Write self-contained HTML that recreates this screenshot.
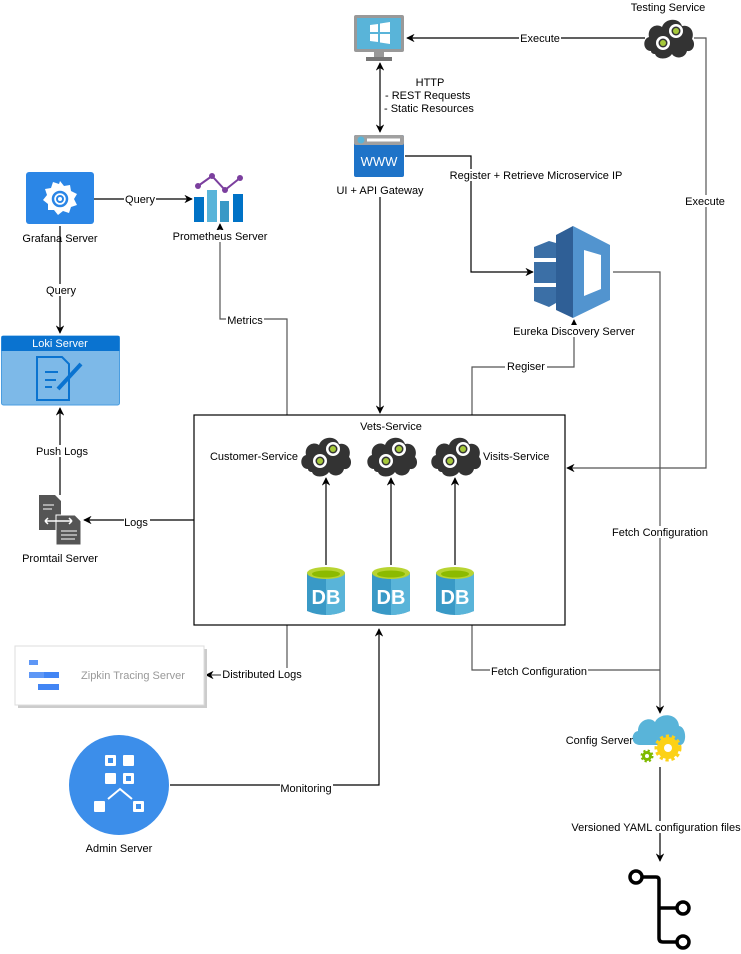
<!DOCTYPE html>
<html><head><meta charset="utf-8"><style>
html,body{margin:0;padding:0;background:#fff}
svg{display:block;font-family:"Liberation Sans",sans-serif;font-size:11px}
.t{fill:#000}
</style></head><body>
<svg width="741" height="954" viewBox="0 0 741 954" xmlns="http://www.w3.org/2000/svg">
<defs>
<marker id="a" viewBox="0 0 10 10" refX="9" refY="5" markerWidth="7" markerHeight="7" orient="auto-start-reverse"><path d="M0,0 L10,5 L0,10 L3,5 z" fill="#000"/></marker>
<g id="cloud">
<path d="M8,34 C0,34 -1,22 6,20 C4,10 14,6 19,10 C22,1 36,0 39,9 C47,7 52,15 49,22 C53,26 51,35 44,34 C42,42 32,42 29,37 C25,43 14,43 12,37 C10,37 8,36 8,34z" fill="#333"/>
<circle cx="33" cy="14" r="7" fill="#fff"/><circle cx="33" cy="14" r="4.5" fill="#333"/><circle cx="33" cy="14" r="3" fill="#a5c83a"/>
<circle cx="20" cy="26" r="7" fill="#fff"/><circle cx="20" cy="26" r="4.5" fill="#333"/><circle cx="20" cy="26" r="3" fill="#a5c83a"/>
</g>
<g id="db">
<path d="M0,6 L0,44 Q19,52 38,44 L38,6 z" fill="#3999c6"/>
<path d="M19,8 L38,6 L38,44 Q29,48 19,48 z" fill="#59b4d9"/>
<ellipse cx="19" cy="6" rx="19" ry="6" fill="#b8d432"/>
<ellipse cx="19" cy="7" rx="14" ry="3.5" fill="#8cba00"/>
<text x="19" y="37" text-anchor="middle" font-weight="bold" font-size="20" fill="#fff">DB</text>
</g>
</defs>

<!-- connectors -->
<g fill="none" stroke-width="1.2">
<path d="M645,38 H407" stroke="#000" marker-end="url(#a)"/>
<path d="M694,38 H706 V468 H567" stroke="#555" marker-end="url(#a)"/>
<path d="M380,132 V63" stroke="#000" marker-end="url(#a)" marker-start="url(#a)"/>
<path d="M380,197 V413" stroke="#000" marker-end="url(#a)"/>
<path d="M405,156 H471 V272 H533" stroke="#000" marker-end="url(#a)"/>
<path d="M613,272 H660 V713" stroke="#555" marker-end="url(#a)"/>
<path d="M472,415 V367 H574 V320" stroke="#555" marker-end="url(#a)"/>
<path d="M94,199 H192" stroke="#000" marker-end="url(#a)"/>
<path d="M287,415 V319 H220 V224" stroke="#555" marker-end="url(#a)"/>
<path d="M60,226 V333" stroke="#000" marker-end="url(#a)"/>
<path d="M60,495 V408" stroke="#000" marker-end="url(#a)"/>
<path d="M194,520 H84" stroke="#000" marker-end="url(#a)"/>
<path d="M287,625 V675 H206" stroke="#555" marker-end="url(#a)"/>
<path d="M472,625 V670 H660" stroke="#555"/>
<path d="M170,785 H379 V629" stroke="#000" marker-end="url(#a)"/>
<path d="M660,767 V861" stroke="#000" marker-end="url(#a)"/>
<path d="M326,565 V478" stroke="#000" marker-end="url(#a)"/>
<path d="M391,565 V478" stroke="#000" marker-end="url(#a)"/>
<path d="M455,565 V478" stroke="#000" marker-end="url(#a)"/>
</g>

<!-- main box -->
<rect x="194" y="415" width="371" height="210" fill="none" stroke="#000" stroke-width="1.2"/>

<!-- monitor -->
<rect x="354" y="15" width="50" height="37" rx="2" fill="#999"/>
<rect x="357" y="18" width="44" height="31" fill="#59b4d9"/>
<path d="M370,25 L378,24 V32 H370z M380,23.5 L390,22 V32 H380z M370,34 H378 V42 L370,41z M380,34 H390 V44 L380,42.5z" fill="#fff"/>
<rect x="374" y="52" width="10" height="6" fill="#999"/><rect x="366" y="57" width="26" height="4" fill="#777"/>

<!-- testing cloud -->
<use href="#cloud" x="643" y="17"/>

<!-- www -->
<rect x="354" y="135" width="50" height="42" rx="2" fill="#1e73c8"/>
<rect x="354" y="135" width="50" height="10" rx="2" fill="#a0a0a0"/>
<circle cx="361" cy="140" r="3.5" fill="#59b4d9"/><rect x="367" y="138.5" width="33" height="3" fill="#fff"/>
<text x="379" y="166" text-anchor="middle" fill="#fff" font-size="13">WWW</text>

<!-- grafana -->
<rect x="26" y="172" width="68" height="52" rx="3" fill="#2b86e6"/>
<path d="M60,181 l4,5 6,-1 1,6 6,3 -3,5 3,6 -6,2 -2,6 -6,-2 -5,4 -4,-5 -6,0 0,-6 -5,-4 4,-5 -2,-6 6,-1 2,-6 6,2z" fill="#fff"/>
<circle cx="60" cy="199" r="7" fill="none" stroke="#2b86e6" stroke-width="2.5"/>
<circle cx="60" cy="199" r="3" fill="none" stroke="#2b86e6" stroke-width="2"/>

<!-- prometheus -->
<rect x="194" y="197" width="10" height="25" fill="#0072c6"/>
<rect x="207" y="190" width="10" height="32" fill="#59b4d9"/>
<rect x="220" y="201" width="9" height="21" fill="#3999c6"/>
<rect x="233" y="194" width="10" height="28" fill="#0072c6"/>
<path d="M198,186 L212,176 L225,190 L240,178" fill="none" stroke="#7b3f9e" stroke-width="2"/>
<circle cx="198" cy="186" r="3" fill="#7b3f9e"/><circle cx="212" cy="176" r="3" fill="#7b3f9e"/><circle cx="225" cy="190" r="3" fill="#7b3f9e"/><circle cx="240" cy="178" r="3" fill="#7b3f9e"/>

<!-- loki -->
<rect x="1.5" y="336" width="118" height="69" rx="2" fill="#7db9e8" stroke="#4a9de0"/>
<rect x="1.5" y="336" width="118" height="15" fill="#0a73d0"/>
<text x="60" y="347" text-anchor="middle" fill="#fff" font-size="11">Loki Server</text>
<path d="M37,357 H62 L69,364 V400 H37z" fill="none" stroke="#0a73d0" stroke-width="2"/>
<path d="M45,372 H58 M45,380 H56 M45,387 H52" stroke="#0a73d0" stroke-width="2"/>
<path d="M58,389 L81,364" stroke="#0a73d0" stroke-width="4"/>

<!-- promtail -->
<path d="M39,495 H55 L61,501 V530 H39z" fill="#555"/>
<path d="M56,515 H75 L81,521 V545 H56z" fill="#555" stroke="#fff" stroke-width="1"/>
<path d="M43,505 H54 M43,509 H52 M61,531 H77 M61,535 H77 M61,539 H75" stroke="#fff" stroke-width="1"/>
<path d="M45,521 H72 M45,521 l3,-3 M45,521 l3,3 M72,521 l-3,-3 M72,521 l-3,3" stroke="#fff" stroke-width="1.5"/>

<!-- eureka -->
<polygon points="534,247 549,241 556,243 556,258 534,258" fill="#3b6fa6"/>
<polygon points="534,262 556,262 556,283 534,283" fill="#3b6fa6"/>
<polygon points="534,287 556,287 556,303 549,307 534,301" fill="#3b6fa6"/>
<polygon points="556,235 573,226 573,318 556,310" fill="#2f5f96"/>
<path d="M573,226 L610,245 L610,300 L573,318 z M584,250 L584,296 L601,289 L601,255 z" fill="#5294cf" fill-rule="evenodd"/>

<!-- clouds in box -->
<use href="#cloud" x="300" y="435"/>
<use href="#cloud" x="366" y="435"/>
<use href="#cloud" x="430" y="435"/>
<use href="#db" x="307" y="567"/>
<use href="#db" x="372" y="567"/>
<use href="#db" x="436" y="567"/>

<!-- zipkin -->
<rect x="18" y="649" width="189" height="59" fill="#ccc"/>
<rect x="15" y="646" width="189" height="59" fill="#fff" stroke="#ddd"/>
<rect x="29" y="660" width="9" height="5" fill="#5e97f6"/>
<rect x="29" y="672" width="30" height="6" fill="#5e97f6"/><rect x="44" y="672" width="15" height="6" fill="#4285f4"/>
<rect x="38" y="684" width="21" height="6" fill="#4285f4"/>
<text x="133" y="679" text-anchor="middle" fill="#999" font-size="11">Zipkin Tracing Server</text>

<!-- admin -->
<circle cx="119" cy="785" r="50" fill="#3c8eea"/>
<g fill="#fff"><rect x="105" y="755" width="11" height="11" rx="1"/><rect x="123" y="755" width="11" height="11" rx="1"/><rect x="105" y="773" width="11" height="11" rx="1"/><rect x="123" y="773" width="11" height="11" rx="1"/><rect x="94" y="801" width="11" height="11" rx="1"/><rect x="133" y="801" width="11" height="11" rx="1"/></g>
<g fill="#3c8eea"><rect x="108" y="758" width="5" height="5"/><rect x="126" y="776" width="5" height="5"/><rect x="136" y="804" width="5" height="5"/></g>
<path d="M108,799 L120,789 L132,799" fill="none" stroke="#fff" stroke-width="2"/>

<!-- config server -->
<path d="M640,745 C630,745 631,732 638,731 C638,720 650,716 655,722 C660,712 678,713 679,726 C687,727 687,745 680,745z" fill="#59b4d9"/>
<circle cx="668" cy="748" r="11" fill="#fcd116" stroke="#fcd116" stroke-width="5" stroke-dasharray="3 2.5"/>
<circle cx="668" cy="748" r="4" fill="#fff"/>
<circle cx="647" cy="756" r="5" fill="#7fba00" stroke="#7fba00" stroke-width="3" stroke-dasharray="2 2"/>
<circle cx="647" cy="756" r="2" fill="#fff"/>

<!-- git -->
<g fill="none" stroke="#000" stroke-width="3.5">
<circle cx="636" cy="877" r="6"/>
<path d="M642,877 H656 Q659,877 659,880 V938 Q659,942 663,942 H677 M659,908 H677"/>
<circle cx="683" cy="908" r="6"/><circle cx="683" cy="942" r="6"/>
</g>

<!-- labels with white background -->
<g font-size="11">
<text x="668" y="11" text-anchor="middle">Testing Service</text>
<rect x="519" y="32" width="42" height="12" fill="#fff"/><text x="540" y="42" text-anchor="middle">Execute</text>
<text x="430" y="86" text-anchor="middle">HTTP</text>
<text x="385" y="99">- REST Requests</text>
<text x="384" y="112">- Static Resources</text>
<rect x="334" y="184" width="92" height="12" fill="#fff"/><text x="380" y="194" text-anchor="middle">UI + API Gateway</text>
<rect x="448" y="169" width="176" height="12" fill="#fff"/><text x="536" y="179" text-anchor="middle">Register + Retrieve Microservice IP</text>
<rect x="684" y="195" width="44" height="12" fill="#fff"/><text x="705" y="205" text-anchor="middle">Execute</text>
<rect x="504" y="325" width="140" height="12" fill="#fff"/><text x="574" y="335" text-anchor="middle">Eureka Discovery Server</text>
<rect x="505" y="360" width="42" height="12" fill="#fff"/><text x="526" y="370" text-anchor="middle">Regiser</text>
<rect x="124" y="193" width="32" height="12" fill="#fff"/><text x="140" y="203" text-anchor="middle">Query</text>
<text x="60" y="242" text-anchor="middle">Grafana Server</text>
<rect x="170" y="230" width="100" height="12" fill="#fff"/><text x="220" y="240" text-anchor="middle">Prometheus Server</text>
<rect x="226" y="314" width="38" height="12" fill="#fff"/><text x="245" y="324" text-anchor="middle">Metrics</text>
<rect x="44" y="284" width="32" height="12" fill="#fff"/><text x="61" y="294" text-anchor="middle">Query</text>
<rect x="34" y="445" width="56" height="12" fill="#fff"/><text x="62" y="455" text-anchor="middle">Push Logs</text>
<rect x="124" y="515" width="26" height="12" fill="#fff"/><text x="136" y="526" text-anchor="middle">Logs</text>
<text x="60" y="562" text-anchor="middle">Promtail Server</text>
<text x="391" y="430" text-anchor="middle">Vets-Service</text>
<text x="298" y="460" text-anchor="end">Customer-Service</text>
<text x="483" y="460">Visits-Service</text>
<rect x="610" y="526" width="100" height="12" fill="#fff"/><text x="660" y="536" text-anchor="middle">Fetch Configuration</text>
<rect x="221" y="668" width="82" height="12" fill="#fff"/><text x="262" y="678" text-anchor="middle">Distributed Logs</text>
<rect x="490" y="665" width="98" height="12" fill="#fff"/><text x="539" y="675" text-anchor="middle">Fetch Configuration</text>
<rect x="280" y="782" width="53" height="12" fill="#fff"/><text x="306" y="792" text-anchor="middle">Monitoring</text>
<text x="119" y="852" text-anchor="middle">Admin Server</text>
<text x="633" y="744" text-anchor="end">Config Server</text>
<rect x="572" y="821" width="168" height="12" fill="#fff"/><text x="656" y="831" text-anchor="middle">Versioned YAML configuration files</text>
</g>
</svg>
</body></html>
